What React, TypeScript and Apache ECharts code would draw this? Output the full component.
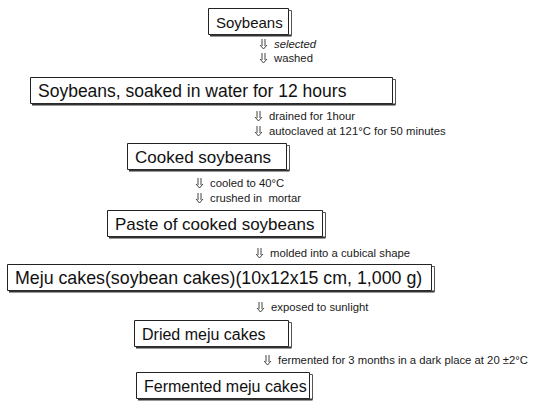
import React, { useEffect, useRef } from "react";
import * as echarts from "echarts";

// Flowchart content
const stepLabels: string[] = [
  "Soybeans",
  "Soybeans, soaked in water for 12 hours",
  "Cooked soybeans",
  "Paste of cooked soybeans",
  "Meju cakes(soybean cakes)(10x12x15 cm, 1,000 g)",
  "Dried meju cakes",
  "Fermented meju cakes",
];

const noteLabels: string[][] = [
  ["selected", "washed"],
  ["drained for 1hour", "autoclaved at 121°C for 50 minutes"],
  ["cooled to 40°C", "crushed in  mortar"],
  ["molded into a cubical shape"],
  ["exposed to sunlight"],
  ["fermented for 3 months in a dark place at 20 \u00b12°C"],
];

const noteItalic: boolean[][] = [
  [true, false],
  [false, false],
  [false, false],
  [false],
  [false],
  [false],
];

// Layout (pixels)
const boxLeft = [208, 30, 127, 107, 7, 134, 136];
const boxRight = [288, 392, 286, 322, 431, 288, 309];
const boxTop = [8, 77, 143, 210, 264, 320, 372];
const boxFont = [15, 17.5, 17, 17, 17.8, 16, 16];
const boxHeight = 26;
const noteArrowX = [263, 258, 199, 259, 260, 267];
const noteY = [[44, 58], [116, 131], [183, 198], [253], [307], [360]];

export default function App() {
  const ref = useRef<HTMLDivElement>(null);
  useEffect(() => {
    document.body.style.margin = "0";
    const chart = echarts.init(ref.current!, null, { renderer: "svg" });
    const elements: any[] = [];
    const stroke = "#222";
    stepLabels.forEach((label, i) => {
      const l = boxLeft[i];
      const r = boxRight[i];
      const t = boxTop[i];
      const b = t + boxHeight;
      elements.push({
        type: "rect",
        shape: { x: l + 0.5, y: t + 0.5, width: r - l, height: boxHeight },
        style: { fill: "#fff", stroke, lineWidth: 1 },
      });
      elements.push({
        type: "polyline",
        shape: { points: [[r + 0.5, t + 2.5], [r + 3.5, t + 2.5], [r + 3.5, b + 1.5]] },
        style: { stroke: "#555", lineWidth: 1, fill: null },
      });
      elements.push({
        type: "line",
        shape: { x1: l + 2, y1: b + 1.5, x2: r + 3.5, y2: b + 1.5 },
        style: { stroke: "#333", lineWidth: 2 },
      });
      elements.push({
        type: "text",
        x: l + 8,
        y: t + boxHeight / 2 + 1,
        style: {
          text: label,
          font: boxFont[i] + "px 'Liberation Sans', Arial, sans-serif",
          fill: "#111",
          textVerticalAlign: "middle",
          textAlign: "left",
        },
      });
    });
    noteLabels.forEach((notes, i) => {
      notes.forEach((n, j) => {
        const y = noteY[i][j];
        const x = noteArrowX[i] + 0.5;
        elements.push({
          type: "line",
          shape: { x1: x - 1.5, y1: y - 5, x2: x - 1.5, y2: y + 2 },
          style: { stroke: "#444", lineWidth: 1 },
        });
        elements.push({
          type: "line",
          shape: { x1: x + 1.5, y1: y - 5, x2: x + 1.5, y2: y + 2 },
          style: { stroke: "#444", lineWidth: 1 },
        });
        elements.push({
          type: "polyline",
          shape: { points: [[x - 3.5, y + 1], [x, y + 5], [x + 3.5, y + 1]] },
          style: { stroke: "#444", lineWidth: 1, fill: null },
        });
        elements.push({
          type: "text",
          x: noteArrowX[i] + 11,
          y,
          style: {
            text: n,
            font: (noteItalic[i][j] ? "italic " : "") + "11.3px 'Liberation Sans', Arial, sans-serif",
            fill: "#1a1a1a",
            textAlign: "left",
            textVerticalAlign: "middle",
          },
        });
      });
    });
    chart.setOption({
      animation: false,
      backgroundColor: "#fff",
      graphic: { elements },
    });
    return () => chart.dispose();
  }, []);
  return <div ref={ref} style={{ width: 545, height: 405 }} />;
}
